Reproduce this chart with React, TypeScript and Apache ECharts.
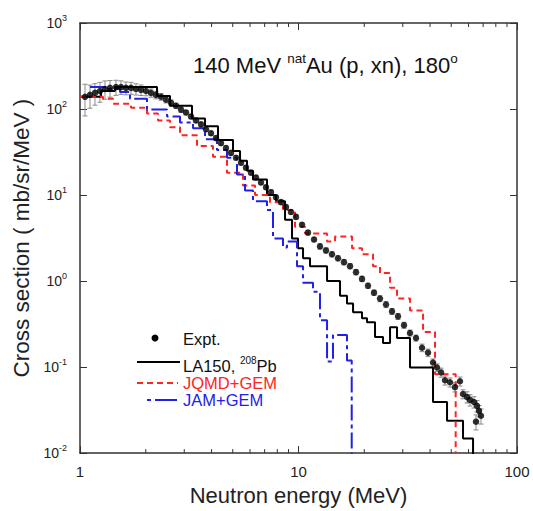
import React, { useEffect, useRef } from "react";
import * as echarts from "echarts";

const FONT = "'Liberation Sans', Arial, Helvetica, sans-serif";

// Experimental data (Expt.)
const expEnergy = [
  1.054, 1.111, 1.171, 1.234, 1.301, 1.372, 1.461, 1.54, 1.623, 1.712,
  1.804, 1.902, 2.005, 2.113, 2.228, 2.349, 2.476, 2.61, 2.751, 2.9,
  3.056, 3.221, 3.396, 3.58, 3.773, 3.977, 4.193, 4.419, 4.658, 4.91,
  5.176, 5.456, 5.751, 6.062, 6.39, 6.735, 7.1, 7.483, 7.888, 8.315,
  8.765, 9.24, 9.74, 10.38, 11.05, 11.78, 12.54, 13.36, 14.23, 15.16,
  16.15, 17.21, 18.33, 19.53, 20.8, 22.16, 23.6, 25.15, 26.79, 28.54,
  30.4, 32.38, 34.5, 36.75, 39.15, 41.27, 43.05, 44.91, 46.83, 49.37,
  52.03, 54.84, 56.6, 59.04, 60.94, 63.56, 65.61, 66.99, 68.42, 64.92,
];
const expXS = [
  138.6, 146, 154, 162, 171, 176, 180, 180, 176, 176,
  171, 167, 162, 154, 146, 139, 128, 118, 109, 98.4,
  91.0, 81.8, 73.7, 66.3, 58.1, 52.3, 45.9, 40.2, 35.2, 30.9,
  27.1, 23.7, 20.8, 18.2, 16.0, 14.0, 12.3, 10.8, 9.44, 8.27,
  7.25, 6.36, 5.57, 4.51, 3.66, 3.04, 2.53, 2.27, 2.05, 1.84,
  1.66, 1.49, 1.27, 1.06, 0.881, 0.733, 0.625, 0.534, 0.444, 0.389,
  0.307, 0.249, 0.218, 0.168, 0.147, 0.113, 0.0989, 0.0867, 0.0702, 0.0666,
  0.0584, 0.0684, 0.0486, 0.0449, 0.0415, 0.0393, 0.0354, 0.031, 0.0272, 0.0232,
];
const expRelErr = [
  0.4, 0.3, 0.28, 0.26, 0.24, 0.22, 0.2, 0.18, 0.17, 0.16,
  0.15, 0.14, 0.12, 0.11, 0.1, 0.09, 0.08, 0.08, 0.07, 0.07,
  0.06, 0.06, 0.06, 0.06, 0.06, 0.06, 0.06, 0.06, 0.06, 0.06,
  0.06, 0.06, 0.06, 0.06, 0.06, 0.06, 0.06, 0.06, 0.06, 0.06,
  0.06, 0.06, 0.06, 0.06, 0.06, 0.06, 0.07, 0.07, 0.07, 0.07,
  0.07, 0.07, 0.07, 0.07, 0.07, 0.07, 0.08, 0.08, 0.08, 0.08,
  0.08, 0.08, 0.08, 0.1, 0.1, 0.1, 0.1, 0.12, 0.12, 0.12,
  0.12, 0.12, 0.12, 0.15, 0.15, 0.15, 0.15, 0.15, 0.2, 0.2,
];

// LA150, 208Pb histogram
const la150Edges = [
  1.0, 1.248, 1.446, 2.251, 2.582, 3.255, 3.734, 4.281, 5.014, 5.4,
  5.813, 6.191, 7.176, 7.888, 8.677, 9.34, 9.95, 10.49, 11.29, 13.51,
  15.49, 16.67, 17.77, 19.53, 20.59, 22.4, 24.37, 26.24, 28.24, 32.39,
  41.27, 47.84, 56.62, 62.93,
];
const la150Values = [
  138.6, 162, 180, 142, 109, 77.6, 62.9, 43.5, 32.5, 25.0,
  19.2, 15.2, 10.0, 8.49, 5.15, 3.12, 2.4, 1.84, 1.49, 1.0,
  0.677, 0.548, 0.433, 0.369, 0.332, 0.224, 0.191, 0.291, 0.218, 0.0989,
  0.0393, 0.0238, 0.0148,
];

// JQMD+GEM histogram
const jqmdEdges = [
  1.0, 1.274, 1.416, 1.712, 2.026, 2.275, 2.582, 2.869, 3.432, 4.061,
  4.708, 5.572, 6.324, 7.406, 8.493, 9.638, 10.71, 13.51, 14.7, 17.58,
  19.53, 21.93, 23.6, 26.24, 28.24, 32.39, 37.15, 42.15, 52.4,
];
const jqmdValues = [
  138.6, 131.5, 115.3, 103.8, 88.6, 73.7, 61.2, 49.6, 37.1, 27.8,
  18.2, 12.9, 10.0, 8.27, 6.7, 4.28, 3.56, 2.88, 3.29, 2.4,
  2.05, 1.49, 1.24, 0.836, 0.625, 0.456, 0.255, 0.0823,
];

// JAM+GEM histogram
const jamEdges = [
  1.111, 1.329, 1.524, 1.694, 2.026, 2.502, 2.869, 3.29, 3.734, 4.236,
  4.708, 5.231, 5.691, 6.191, 7.176, 7.644, 8.493, 8.859, 9.845, 10.49,
  11.65, 12.54, 13.51, 14.38, 16.67, 17.52,
];
const jamValues = [
  180, 171, 158, 131.5, 98.4, 81.8, 69.9, 59.7, 44.6, 33.4,
  27.1, 17.3, 11.3, 8.49, 6.7, 3.12, 2.46, 2.88, 1.49, 0.953,
  0.752, 0.35, 0.116, 0.236, 0.119,
];

const xMinorTicks = [2, 3, 4, 5, 6, 7, 8, 9, 20, 30, 40, 50, 60, 70, 80, 90];

function histPoints(edges: number[], values: number[]) {
  const pts: number[][] = values.map((v, i) => [edges[i], v]);
  pts.push([edges[edges.length - 1], values[values.length - 1]]);
  pts.push([edges[edges.length - 1], 1e-4]);
  return pts;
}

const RED = "#ff2424";
const BLUE = "#2020e6";
const BLUE_DASH = [16, 4, 4, 4];
const RED_DASH = [6, 4];

export default function App() {
  const ref = useRef<HTMLDivElement>(null);
  useEffect(() => {
    if (!ref.current) return;
    const chart = echarts.init(ref.current, undefined, { renderer: "svg" });
    const axisLineStyle = { color: "#333", width: 1.5 };
    const supRich = {
      b: { fontSize: 14, fontFamily: FONT, color: "#222" },
      s: { fontSize: 9, fontFamily: FONT, color: "#222", padding: [0, 0, 10, 0] },
    };
    const option: any = {
      animation: false,
      backgroundColor: "#fff",
      grid: { left: 80, right: 16, top: 23, bottom: 51 },
      xAxis: [
        {
          type: "log",
          logBase: 10,
          min: 1,
          max: 100,
          name: "Neutron energy (MeV)",
          nameLocation: "middle",
          nameGap: 27,
          nameTextStyle: { fontSize: 22, fontFamily: FONT, color: "#222" },
          axisLine: { show: true, onZero: false, lineStyle: axisLineStyle },
          axisTick: { show: true, inside: true, length: 7, lineStyle: { color: "#333", width: 1 } },
          axisLabel: { fontSize: 15, fontFamily: FONT, color: "#222", margin: 11 },
          splitLine: { show: false },
        },
        {
          type: "log",
          logBase: 10,
          min: 1,
          max: 100,
          position: "top",
          axisLine: { show: true, onZero: false, lineStyle: axisLineStyle },
          axisTick: { show: true, inside: true, length: 7, lineStyle: { color: "#333", width: 1 } },
          axisLabel: { show: false },
          splitLine: { show: false },
        },
      ],
      yAxis: [
        {
          type: "log",
          logBase: 10,
          min: 0.01,
          max: 1000,
          name: "Cross section ( mb/sr/MeV )",
          nameLocation: "middle",
          nameGap: 46,
          nameTextStyle: { fontSize: 22.5, fontFamily: FONT, color: "#222" },
          axisLine: { show: true, onZero: false, lineStyle: axisLineStyle },
          axisTick: { show: true, inside: true, length: 7, lineStyle: { color: "#333", width: 1 } },
          axisLabel: {
            margin: 13,
            formatter: (v: number) => `{b|10}{s|${Math.round(Math.log10(v))}}`,
            rich: supRich,
          },
          splitLine: { show: false },
        },
        {
          type: "log",
          logBase: 10,
          min: 0.01,
          max: 1000,
          position: "right",
          axisLine: { show: true, onZero: false, lineStyle: axisLineStyle },
          axisTick: { show: true, inside: true, length: 7, lineStyle: { color: "#333", width: 1 } },
          axisLabel: { show: false },
          splitLine: { show: false },
        },
      ],
      series: [
        {
          type: "custom",
          name: "minorTicks",
          xAxisIndex: 0,
          yAxisIndex: 0,
          silent: true,
          data: xMinorTicks.map((t) => [t, 1]),
          renderItem: (params: any, api: any) => {
            const cs = params.coordSys;
            const px = api.coord([api.value(0), 1])[0];
            const st = { stroke: "#333", lineWidth: 1 };
            return {
              type: "group",
              children: [
                { type: "line", shape: { x1: px, y1: cs.y + cs.height, x2: px, y2: cs.y + cs.height - 4 }, style: st },
                { type: "line", shape: { x1: px, y1: cs.y, x2: px, y2: cs.y + 4 }, style: st },
              ],
            };
          },
        },
        {
          type: "custom",
          name: "errors",
          xAxisIndex: 0,
          yAxisIndex: 0,
          silent: true,
          z: 1,
          data: expEnergy.map((e, i) => [e, expXS[i], expXS[i] * expRelErr[i]]),
          renderItem: (params: any, api: any) => {
            const x = api.value(0);
            const y = api.value(1);
            const err = api.value(2);
            const p1 = api.coord([x, y + err]);
            const p2 = api.coord([x, Math.max(y - err, 1e-4)]);
            const cw = 2.5;
            const st = { stroke: "#8a8a8a", lineWidth: 1 };
            return {
              type: "group",
              children: [
                { type: "line", shape: { x1: p1[0], y1: p1[1], x2: p2[0], y2: p2[1] }, style: st },
                { type: "line", shape: { x1: p1[0] - cw, y1: p1[1], x2: p1[0] + cw, y2: p1[1] }, style: st },
                { type: "line", shape: { x1: p2[0] - cw, y1: p2[1], x2: p2[0] + cw, y2: p2[1] }, style: st },
              ],
            };
          },
        },
        {
          type: "line",
          name: "LA150, 208Pb",
          step: "end",
          showSymbol: false,
          clip: true,
          z: 2,
          data: histPoints(la150Edges, la150Values),
          lineStyle: { color: "#000", width: 2 },
        },
        {
          type: "line",
          name: "JQMD+GEM",
          step: "end",
          showSymbol: false,
          clip: true,
          z: 3,
          data: histPoints(jqmdEdges, jqmdValues),
          lineStyle: { color: RED, width: 2, type: RED_DASH },
        },
        {
          type: "line",
          name: "JAM+GEM",
          step: "end",
          showSymbol: false,
          clip: true,
          z: 3,
          data: histPoints(jamEdges, jamValues),
          lineStyle: { color: BLUE, width: 2, type: BLUE_DASH },
        },
        {
          type: "scatter",
          name: "Expt.",
          z: 4,
          symbol: "circle",
          symbolSize: 6.5,
          itemStyle: { color: "#000" },
          data: expEnergy.map((e, i) => [e, expXS[i]]),
        },
      ],
      graphic: [
        {
          type: "text",
          left: 193,
          top: 51,
          style: {
            text: "{n|140 MeV }{s|nat}{n|Au (p, xn), 180}{s|o}",
            rich: {
              n: { fontSize: 22, fontFamily: FONT, fill: "#111" },
              s: { fontSize: 13.5, fontFamily: FONT, fill: "#111", padding: [0, 0, 14, 0] },
            },
          },
        },
        { type: "circle", shape: { cx: 155, cy: 338, r: 3.5 }, style: { fill: "#000" } },
        {
          type: "text",
          x: 183,
          y: 339,
          style: { text: "Expt.", fontSize: 16.5, fontFamily: FONT, fill: "#111", verticalAlign: "middle" },
        },
        { type: "line", shape: { x1: 137, y1: 362, x2: 180, y2: 362 }, style: { stroke: "#000", lineWidth: 2 } },
        {
          type: "text",
          x: 183,
          y: 366,
          style: {
            text: "{n|LA150, }{s|208}{n|Pb}",
            verticalAlign: "middle",
            rich: {
              n: { fontSize: 16.5, fontFamily: FONT, fill: "#111" },
              s: { fontSize: 10, fontFamily: FONT, fill: "#111", padding: [0, 0, 11, 0] },
            },
          },
        },
        {
          type: "line",
          shape: { x1: 137, y1: 383, x2: 178, y2: 383 },
          style: { stroke: RED, lineWidth: 2, lineDash: RED_DASH },
        },
        {
          type: "text",
          x: 183,
          y: 383,
          style: { text: "JQMD+GEM", fontSize: 16.5, fontFamily: FONT, fill: RED, verticalAlign: "middle" },
        },
        {
          type: "line",
          shape: { x1: 147, y1: 400, x2: 177, y2: 400 },
          style: { stroke: BLUE, lineWidth: 2, lineDash: [4, 4, 22, 0] },
        },
        {
          type: "text",
          x: 183,
          y: 400,
          style: { text: "JAM+GEM", fontSize: 16.5, fontFamily: FONT, fill: BLUE, verticalAlign: "middle" },
        },
      ],
    };
    chart.setOption(option);
    return () => chart.dispose();
  }, []);
  return <div ref={ref} style={{ width: 533, height: 511, position: "absolute", left: 0, top: 0 }} />;
}
